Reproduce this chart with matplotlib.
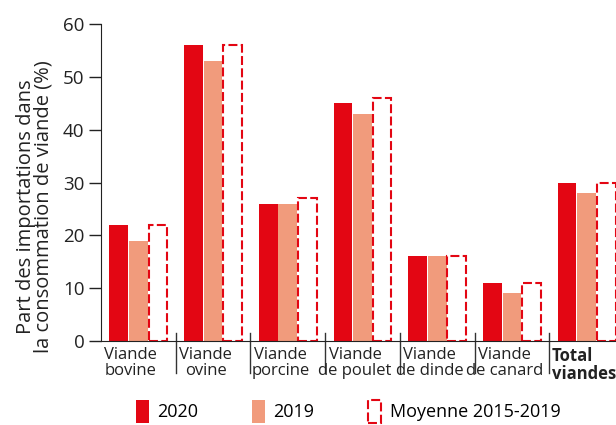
import matplotlib
matplotlib.use("Agg")
import matplotlib.pyplot as plt
import numpy as np

categories = ["Viande\nbovine", "Viande\novine", "Viande\nporcine", "Viande\nde poulet",
              "Viande\nde dinde", "Viande\nde canard", "Total\nviandes"]
v2020 = [22, 56, 26, 45, 16, 11, 30]
v2019 = [19, 53, 26, 43, 16, 9, 28]
moy = [22, 56, 27, 46, 16, 11, 30]

red = "#E30613"
salmon = "#F19B7C"

plt.rcParams["font.family"] = ["Open Sans", "DejaVu Sans"]

fig = plt.figure(figsize=(6.16, 4.25), dpi=100)
ax = fig.add_axes([101 / 616, 84 / 425, 523 / 616, 317 / 425])

x = np.arange(len(categories))
w = 0.25
step = 0.262
b1 = ax.bar(x - step, v2020, w, color=red, label="2020")
b2 = ax.bar(x, v2019, w, color=salmon, label="2019")
b3 = ax.bar(x + step, moy, w, facecolor="none", edgecolor=red, linewidth=1.5,
            linestyle=(0, (4.3, 1.6)), label="Moyenne 2015-2019")

ax.set_xlim(-0.5, len(categories) - 0.5)
ax.set_ylim(0, 60)
ax.set_yticks(range(0, 61, 10))
ax.tick_params(axis="y", length=9, width=1, labelsize=13.5, pad=3, colors="#222222")
ax.set_xticks([])
for s in ["top", "right"]:
    ax.spines[s].set_visible(False)
ax.spines["left"].set_color("#222222")
ax.spines["bottom"].set_color("#222222")

# separateurs entre groupes
for i in range(1, len(categories)):
    ax.plot([i - 0.5, i - 0.5], [1.5, -6], color="#333333", lw=1, clip_on=False)

for i, lab in enumerate(categories):
    if lab.startswith("Total"):
        ax.text(i - 0.47, -1.2, lab, ha="left", va="top", fontsize=12,
                linespacing=1.0, color="#222222", fontweight="bold")
    else:
        ax.text(i - 0.1, -1.2, lab, ha="center", va="top", fontsize=12,
                linespacing=1.0, color="#222222")

ax.set_ylabel("Part des importations dans\nla consommation de viande (%)",
              fontsize=14.5, linespacing=0.88, color="#222222")
ax.yaxis.set_label_coords(-0.09, 0.425)

fig.legend(handles=[b1, b2, b3], loc="lower left", bbox_to_anchor=(125 / 616, -0.021),
           ncol=3, frameon=False, fontsize=13, handlelength=0.72, handleheight=1.6,
           handletextpad=0.45, columnspacing=3.0, borderaxespad=0.2)

fig.savefig("out.png", dpi=100)
